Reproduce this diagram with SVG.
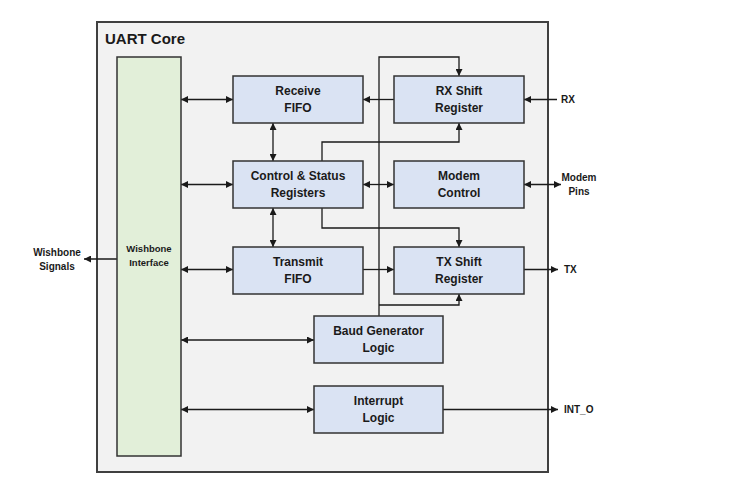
<svg xmlns="http://www.w3.org/2000/svg" width="748" height="480" viewBox="0 0 748 480">
<defs>
<marker id="ah" viewBox="0 0 10 10" refX="10" refY="5" markerWidth="7" markerHeight="7" markerUnits="userSpaceOnUse" orient="auto-start-reverse">
<path d="M0,0 L10,5 L0,10 z" fill="#1a1a1a"/>
</marker>
<style>
.blk{fill:#dae3f3;stroke:#333;stroke-width:1.5}
.wb{fill:#e2efd9;stroke:#333;stroke-width:1.5}
.t{font-family:"Liberation Sans",Arial,sans-serif;font-weight:bold;font-size:12px;fill:#1a1a1a;text-anchor:middle}
.s{font-family:"Liberation Sans",Arial,sans-serif;font-weight:bold;font-size:10px;fill:#1a1a1a}
.c{fill:none;stroke:#1a1a1a;stroke-width:1.3}
.a{marker-end:url(#ah)}
.b{marker-start:url(#ah);marker-end:url(#ah)}
</style>
</defs>
<rect width="748" height="480" fill="#ffffff"/>
<g id="uart-core">
<rect x="97" y="22" width="451" height="450" fill="#f2f2f2" stroke="#404040" stroke-width="2"/>
<text x="105" y="44" style="font-family:'Liberation Sans',Arial,sans-serif;font-weight:bold;font-size:15px;fill:#1a1a1a">UART Core</text>
</g>
<g id="connectors">
<line class="c b" x1="181" y1="99.5" x2="233" y2="99.5"/>
<line class="c b" x1="181" y1="184.5" x2="233" y2="184.5"/>
<line class="c b" x1="181" y1="269.5" x2="233" y2="269.5"/>
<line class="c b" x1="181" y1="340" x2="314" y2="340"/>
<line class="c b" x1="181" y1="409.5" x2="314" y2="409.5"/>
<line class="c a" x1="394" y1="99.5" x2="363" y2="99.5"/>
<line class="c b" x1="273" y1="123" x2="273" y2="161"/>
<line class="c b" x1="273" y1="208" x2="273" y2="247"/>
<line class="c b" x1="363" y1="184.5" x2="394" y2="184.5"/>
<polyline class="c a" points="322,161 322,142 459,142 459,123"/>
<polyline class="c a" points="322,208 322,228 459,228 459,247"/>
<polyline class="c a" points="379,316 379,57 459,57 459,76"/>
<polyline class="c a" points="379,305 459,305 459,294"/>
<line class="c a" x1="363" y1="269.5" x2="394" y2="269.5"/>
<line class="c a" x1="557" y1="99.5" x2="524" y2="99.5"/>
<line class="c b" x1="524" y1="184.5" x2="561" y2="184.5"/>
<line class="c a" x1="524" y1="269.5" x2="558" y2="269.5"/>
<line class="c a" x1="443" y1="409.5" x2="558" y2="409.5"/>
<line class="c a" x1="117" y1="259" x2="84" y2="259"/>
</g>
<g id="wishbone-interface">
<rect class="wb" x="117" y="57" width="64" height="399"/>
<text class="t" style="font-size:9.5px" x="149" y="252">Wishbone</text>
<text class="t" style="font-size:9.5px" x="149" y="266">Interface</text>
</g>
<g id="receive-fifo">
<rect class="blk" x="233" y="76" width="130" height="47"/>
<text class="t" x="298" y="95">Receive</text>
<text class="t" x="298" y="112">FIFO</text>
</g>
<g id="rx-shift-register">
<rect class="blk" x="394" y="76" width="130" height="47"/>
<text class="t" x="459" y="95">RX Shift</text>
<text class="t" x="459" y="112">Register</text>
</g>
<g id="control-status-registers">
<rect class="blk" x="233" y="161" width="130" height="47"/>
<text class="t" x="298" y="180">Control &amp; Status</text>
<text class="t" x="298" y="197">Registers</text>
</g>
<g id="modem-control">
<rect class="blk" x="394" y="161" width="130" height="47"/>
<text class="t" x="459" y="180">Modem</text>
<text class="t" x="459" y="197">Control</text>
</g>
<g id="transmit-fifo">
<rect class="blk" x="233" y="247" width="130" height="47"/>
<text class="t" x="298" y="266">Transmit</text>
<text class="t" x="298" y="283">FIFO</text>
</g>
<g id="tx-shift-register">
<rect class="blk" x="394" y="247" width="130" height="47"/>
<text class="t" x="459" y="266">TX Shift</text>
<text class="t" x="459" y="283">Register</text>
</g>
<g id="baud-generator-logic">
<rect class="blk" x="314" y="316" width="129" height="47"/>
<text class="t" x="378.5" y="335">Baud Generator</text>
<text class="t" x="378.5" y="352">Logic</text>
</g>
<g id="interrupt-logic">
<rect class="blk" x="314" y="386" width="129" height="47"/>
<text class="t" x="378.5" y="405">Interrupt</text>
<text class="t" x="378.5" y="422">Logic</text>
</g>
<g id="external-signals">
<text class="s" x="561" y="103">RX</text>
<text class="s" x="579" y="181" text-anchor="middle">Modem</text>
<text class="s" x="579" y="195" text-anchor="middle">Pins</text>
<text class="s" x="564" y="273">TX</text>
<text class="s" x="564" y="413">INT_O</text>
<text class="s" x="57" y="256" text-anchor="middle">Wishbone</text>
<text class="s" x="57" y="270" text-anchor="middle">Signals</text>
</g>
</svg>
